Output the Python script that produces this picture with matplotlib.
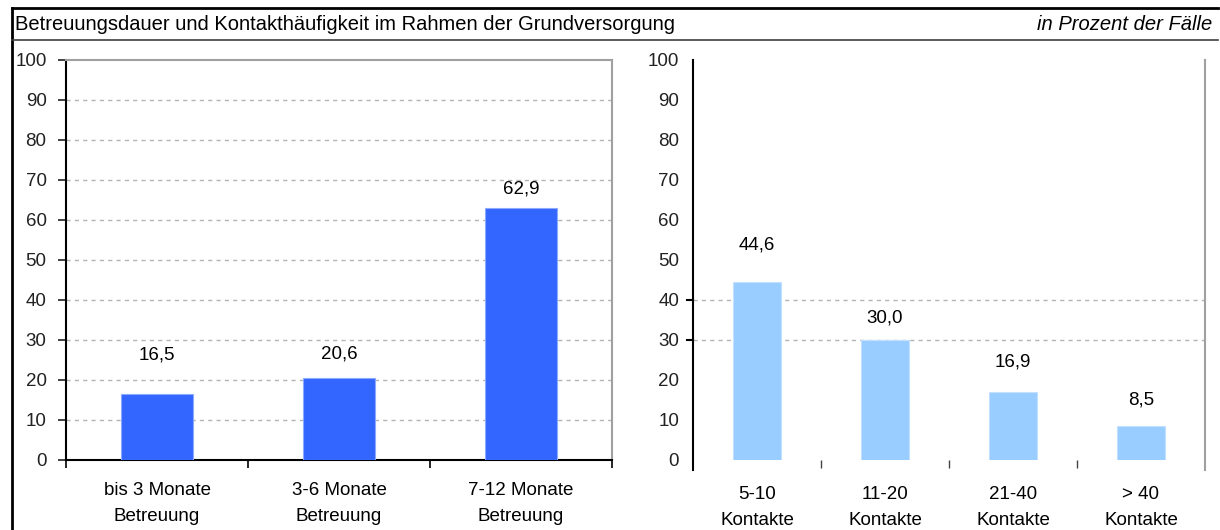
import numpy as np
import matplotlib
matplotlib.use("Agg")
import matplotlib.pyplot as plt
from matplotlib.lines import Line2D

plt.rcParams["font.family"] = ["Liberation Sans", "DejaVu Sans"]

# Daten
dauer_labels = ["bis 3 Monate\nBetreuung", "3-6 Monate\nBetreuung", "7-12 Monate\nBetreuung"]
dauer_werte = [16.5, 20.6, 62.9]
kontakt_labels = ["5-10\nKontakte", "11-20\nKontakte", "21-40\nKontakte", "> 40\nKontakte"]
kontakt_werte = [44.6, 30.0, 16.9, 8.5]
y_ticks = list(range(0, 101, 10))

W, H = 1220, 530
FS = 13.5
GRID = "#b4b4b4"
EDGE = "#a0a0a0"


def fmt(v):
    return f"{v:.1f}".replace(".", ",")


fig = plt.figure(figsize=(W / 100, H / 100), dpi=100)

# Rahmen + Titelzeile
fig.add_artist(Line2D([12 / W, 12 / W], [0, 1 - 8 / H], color="black", lw=2))
fig.add_artist(Line2D([12 / W, 1 - 2 / W], [1 - 8 / H, 1 - 8 / H], color="black", lw=2))
fig.add_artist(Line2D([12 / W, 1 - 2 / W], [1 - 40 / H, 1 - 40 / H], color="#404040", lw=1.2))
fig.text(15 / W, 1 - 24 / H, "Betreuungsdauer und Kontakthäufigkeit im Rahmen der Grundversorgung",
         fontsize=14.5, va="center", ha="left")
fig.text(1 - 8 / W, 1 - 24 / H, "in Prozent der Fälle", fontsize=14.5, style="italic",
         va="center", ha="right")

# --- linkes Diagramm: Betreuungsdauer ---
ax1 = fig.add_axes([66 / W, 70 / H, 546 / W, 400 / H])
x1 = np.arange(len(dauer_werte))
ax1.bar(x1, dauer_werte, width=0.4, color="#3366FF", edgecolor="#8fa8ff", lw=0.8, zorder=3)
ax1.set_xlim(-0.5, len(dauer_werte) - 0.5)
ax1.set_ylim(0, 100)
ax1.set_yticks(y_ticks)
ax1.tick_params(axis="y", direction="out", length=6, width=1.2, labelsize=FS, pad=8, colors="#222222")
ax1.set_xticks(x1)
ax1.set_xticklabels(dauer_labels, fontsize=FS, linespacing=1.65)
ax1.tick_params(axis="x", length=0, pad=16)
ax1.set_xticks(np.arange(-0.5, len(dauer_werte)), minor=True)
ax1.tick_params(axis="x", which="minor", direction="out", length=6, width=1.2)
for y in y_ticks[1:-1]:
    ax1.axhline(y, color=GRID, ls=(0, (3, 3)), lw=1, zorder=1)
ax1.spines["left"].set_linewidth(1.5)
ax1.spines["bottom"].set_linewidth(1.5)
ax1.spines["top"].set_color(EDGE)
ax1.spines["right"].set_color(EDGE)
ax1.spines["top"].set_linewidth(1.5)
ax1.spines["right"].set_linewidth(1.5)
label_off1 = [39, 24, 19]
for xi, v, off in zip(x1, dauer_werte, label_off1):
    ax1.annotate(fmt(v), (xi, v), xytext=(0, off * 0.72), textcoords="offset points",
                 ha="center", va="center", fontsize=FS)

# --- rechtes Diagramm: Kontakthäufigkeit ---
ax2 = fig.add_axes([693 / W, 70 / H, 512 / W, 400 / H])
x2 = np.arange(len(kontakt_werte))
ax2.bar(x2, kontakt_werte, width=0.38, color="#99CCFF", edgecolor="#c4e0ff", lw=0.8, zorder=3)
ax2.set_xlim(-0.5, len(kontakt_werte) - 0.5)
ax2.set_ylim(0, 100)
ax2.set_yticks(y_ticks)
ax2.tick_params(axis="y", length=0, labelsize=FS, pad=10, colors="#222222")
for y in (30, 40):
    ax2.axhline(y, color=GRID, ls=(0, (3, 3)), lw=1, zorder=1)
    ax2.plot([-0.545, -0.5], [y, y], color="black", lw=1.5, clip_on=False)
ax2.set_xticks(x2)
ax2.set_xticklabels(kontakt_labels, fontsize=FS, linespacing=1.7)
ax2.tick_params(axis="x", length=0, pad=19)
ax2.set_xticks(np.arange(0.5, len(kontakt_werte) - 0.5), minor=True)
ax2.tick_params(axis="x", which="minor", direction="out", length=6, width=1, colors="#444444")
ax2.spines["top"].set_visible(False)
ax2.spines["bottom"].set_visible(False)
ax2.spines["left"].set_linewidth(1.5)
ax2.spines["left"].set_bounds(-2.5, 100)
ax2.spines["right"].set_color(EDGE)
ax2.spines["right"].set_linewidth(1.5)
ax2.spines["right"].set_bounds(-2.5, 100)
label_off2 = [37, 22, 30, 26]
for xi, v, off in zip(x2, kontakt_werte, label_off2):
    ax2.annotate(fmt(v), (xi, v), xytext=(0, off * 0.72), textcoords="offset points",
                 ha="center", va="center", fontsize=FS)

fig.savefig("out.png", dpi=100)
